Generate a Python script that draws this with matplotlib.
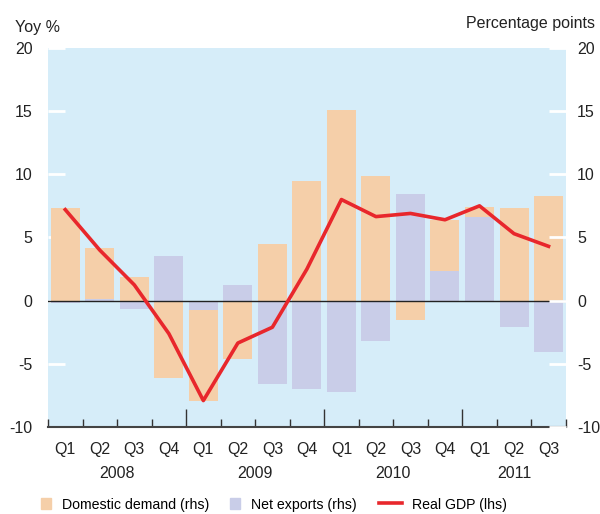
import numpy as np
import matplotlib
matplotlib.use("Agg")
import matplotlib.pyplot as plt
from matplotlib.patches import Patch
from matplotlib.lines import Line2D
from matplotlib.ticker import FixedLocator

plt.rcParams['font.family'] = ['Liberation Sans', 'DejaVu Sans']
plt.rcParams['axes.unicode_minus'] = False

quarters = ['Q1', 'Q2', 'Q3', 'Q4', 'Q1', 'Q2', 'Q3', 'Q4',
            'Q1', 'Q2', 'Q3', 'Q4', 'Q1', 'Q2', 'Q3']
years = ['2008', '2009', '2010', '2011']
domestic = [7.3, 4.15, 1.9, -6.1, -7.95, -4.65, 4.5, 9.45,
            15.1, 9.9, -1.5, 6.4, 7.4, 7.35, 8.3]
net_exports = [-0.2, 0.15, -0.65, 3.55, -0.75, 1.25, -6.6, -6.95,
               -7.2, -3.15, 8.4, 2.35, 6.6, -2.05, -4.05]
gdp = [7.2, 4.0, 1.25, -2.6, -7.9, -3.35, -2.1, 2.5,
       8.0, 6.65, 6.9, 6.4, 7.5, 5.3, 4.3]

c_dd = '#f5cfa9'
c_nx = '#c9cde8'
c_gdp = '#e8272c'
c_bg = '#d6edf9'
c_txt = '#222222'

fig = plt.figure(figsize=(6.0, 5.14), dpi=100)
ax = fig.add_axes([0.08, 0.169, 0.863, 0.738])
ax.set_facecolor(c_bg)

x = np.arange(len(quarters))
ax.bar(x, domestic, width=0.84, color=c_dd, zorder=2)
ax.bar(x, net_exports, width=0.84, color=c_nx, zorder=3)
ax.axhline(0, color=c_txt, lw=1.0, zorder=4)
ax.plot(x, gdp, color=c_gdp, lw=2.6, zorder=5)

ax.set_xlim(-0.5, 14.5)
ax.set_ylim(-10, 20)
ax.set_yticks([-10, -5, 0, 5, 10, 15, 20])
ax.tick_params(axis='y', direction='in', length=12.5, width=2, color='white',
               labelsize=11.5, labelcolor=c_txt, pad=11)
for s in ['top', 'left', 'right']:
    ax.spines[s].set_visible(False)
ax.spines['bottom'].set_color('#444444')
ax.spines['bottom'].set_linewidth(1.5)

# ticks at quarter boundaries, longer ones between years
year_edges = [3.5, 7.5, 11.5]
ax.xaxis.set_major_locator(FixedLocator(year_edges))
ax.xaxis.set_minor_locator(FixedLocator([b + 0.5 for b in range(-1, 15) if b + 0.5 not in year_edges]))
ax.tick_params(axis='x', which='major', direction='in', length=13, width=1, color='#333333', labelbottom=False)
ax.tick_params(axis='x', which='minor', direction='in', length=6, width=1, color='#333333', labelbottom=False)

ax2 = ax.twinx()
ax2.set_ylim(-10, 20)
ax2.set_yticks([-10, -5, 0, 5, 10, 15, 20])
ax2.tick_params(axis='y', direction='in', length=12.5, width=2, color='white',
                labelsize=11.5, labelcolor=c_txt, pad=8)
for s in ['top', 'left', 'right', 'bottom']:
    ax2.spines[s].set_visible(False)

trans = ax.get_xaxis_transform()
for i, q in enumerate(quarters):
    ax.text(i, -0.06, q, transform=trans, ha='center', va='center', fontsize=11.5, color=c_txt)
year_pos = [1.5, 5.5, 9.5, 13]
for yp, yr in zip(year_pos, years):
    ax.text(yp, -0.122, yr, transform=trans, ha='center', va='center', fontsize=11.5, color=c_txt)

fig.text(0.025, 0.947, 'Yoy %', ha='left', va='center', fontsize=11.5, color=c_txt)
fig.text(0.992, 0.955, 'Percentage points', ha='right', va='center', fontsize=11.5, color=c_txt)

# legend entries placed one by one
entries = [(Patch(color=c_dd, label='Domestic demand (rhs)'), 0.068, 0.75),
           (Patch(color=c_nx, label='Net exports (rhs)'), 0.383, 0.75),
           (Line2D([], [], color=c_gdp, lw=2.6, label='Real GDP (lhs)'), 0.632, 1.6)]
for h, xpos, hl in entries:
    fig.legend(handles=[h], loc='center left', bbox_to_anchor=(xpos, 0.018),
               frameon=False, fontsize=10.2, handlelength=hl, handleheight=0.85,
               handletextpad=0.75, borderaxespad=0, borderpad=0)

fig.savefig('out.png', dpi=100)
